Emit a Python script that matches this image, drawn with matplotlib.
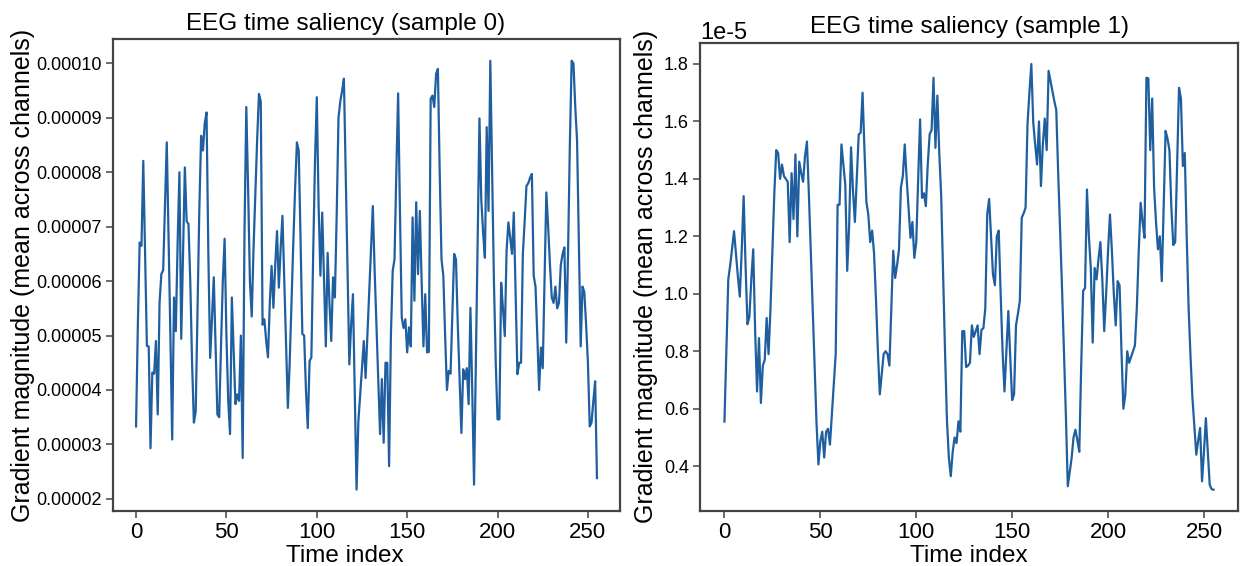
import matplotlib
matplotlib.use("Agg")
import matplotlib.pyplot as plt
import numpy as np

plt.rcParams['font.family'] = ['Liberation Sans', 'DejaVu Sans']
plt.rcParams['axes.unicode_minus'] = False

SCALE = 1e-5

# Sample 0: gradient magnitude (units of 1e-5), time index 0..255
sample0 = [
    3.33, 5.2, 6.71, 6.65, 8.21, 6.5, 4.81, 4.8, 2.93, 4.32,
    4.3, 4.9, 3.55, 5.6, 6.13, 6.2, 7.4, 8.55, 6.8, 5.0,
    3.09, 5.7, 5.08, 6.7, 8.0, 4.94, 6.5, 8.09, 7.1, 7.05,
    6.0, 4.5, 3.4, 3.6, 5.5, 7.3, 8.67, 8.4, 8.9, 9.1,
    6.5, 4.59, 5.3, 6.07, 4.8, 3.55, 3.5, 4.8, 6.0, 6.78,
    5.0, 3.8, 3.19, 5.7, 4.7, 3.74, 3.92, 3.8, 5.0, 2.75,
    6.9, 9.2, 7.7, 6.0, 5.35, 6.6, 7.6, 8.6, 9.44, 9.3,
    5.2, 5.3, 4.9, 4.6, 5.6, 6.28, 5.51, 6.3, 6.92, 5.88,
    6.6, 7.2, 6.0, 4.8, 3.67, 4.5, 5.6, 6.7, 7.7, 8.55,
    8.4, 6.8, 5.03, 5.0, 4.0, 3.3, 4.53, 4.6, 6.5, 8.2,
    9.38, 7.4, 6.1, 7.26, 6.0, 4.8, 6.52, 5.6, 4.9, 6.07,
    5.7, 7.2, 9.0, 9.3, 9.5, 9.72, 8.0, 6.2, 4.47, 5.2,
    5.76, 4.0, 2.17, 3.42, 3.9, 4.4, 4.9, 4.22, 5.0, 5.8,
    6.6, 7.38, 6.2, 5.2, 4.2, 3.19, 4.2, 3.03, 4.5, 4.5,
    2.6, 5.0, 6.19, 6.4, 8.0, 9.45, 7.3, 5.33, 5.14, 5.3,
    4.69, 5.15, 4.8, 7.17, 5.64, 7.45, 6.13, 7.29, 6.0, 4.8,
    5.76, 4.69, 4.7, 9.35, 9.41, 9.2, 9.81, 9.9, 8.0, 6.4,
    6.1, 5.0, 4.0, 4.35, 4.3, 5.4, 6.5, 6.4, 5.2, 4.2,
    3.21, 4.38, 4.2, 4.4, 3.74, 5.51, 4.0, 2.26, 4.5, 6.8,
    8.99, 7.5, 6.9, 6.43, 8.83, 7.29, 10.05, 7.97, 6.0, 4.5,
    3.46, 3.46, 5.97, 5.5, 4.99, 6.56, 7.08, 6.8, 6.5, 7.26,
    5.8, 4.29, 4.5, 4.5, 6.5, 7.1, 7.75, 7.8, 7.9, 7.97,
    6.1, 5.9, 5.0, 4.0, 4.78, 4.4, 6.0, 7.63, 7.0, 6.3,
    5.7, 5.6, 5.9, 5.5, 5.6, 6.3, 6.5, 6.62, 4.87, 6.5,
    8.5, 10.05, 10.0, 9.2, 8.58, 6.7, 4.8, 5.9, 5.8, 5.2,
    4.5, 3.33, 3.4, 3.8, 4.16, 2.38,
]

# Sample 1: gradient magnitude (units of 1e-5), time index 0..255
sample1 = [
    0.555, 0.8, 1.05, 1.1, 1.16, 1.218, 1.14, 1.06, 0.99, 1.15,
    1.34, 1.1, 0.894, 0.92, 1.05, 1.155, 0.87, 0.66, 0.846, 0.62,
    0.75, 0.77, 0.916, 0.79, 0.95, 1.15, 1.35, 1.50, 1.49, 1.40,
    1.45, 1.41, 1.40, 1.39, 1.18, 1.42, 1.26, 1.485, 1.2, 1.46,
    1.42, 1.39, 1.48, 1.53, 1.35, 1.15, 0.95, 0.75, 0.55, 0.406,
    0.487, 0.52, 0.43, 0.52, 0.53, 0.475, 0.58, 0.68, 0.79, 1.31,
    1.31, 1.52, 1.45, 1.38, 1.08, 1.235, 1.51, 1.36, 1.25, 1.40,
    1.555, 1.56, 1.70, 1.5, 1.32, 1.276, 1.18, 1.22, 1.14, 0.98,
    0.8, 0.65, 0.72, 0.79, 0.80, 0.79, 0.75, 0.95, 1.15, 1.055,
    1.1, 1.154, 1.37, 1.41, 1.52, 1.40, 1.3, 1.195, 1.25, 1.125,
    1.18, 1.4, 1.607, 1.334, 1.35, 1.305, 1.45, 1.556, 1.57, 1.752,
    1.508, 1.69, 1.49, 1.34, 1.07, 0.80, 0.56, 0.43, 0.365, 0.45,
    0.50, 0.48, 0.556, 0.52, 0.87, 0.87, 0.745, 0.75, 0.76, 0.89,
    0.85, 0.87, 0.89, 0.79, 0.875, 0.88, 0.95, 1.276, 1.33, 1.2,
    1.067, 1.03, 1.20, 1.22, 1.0, 0.8, 0.66, 0.8, 0.94, 0.78,
    0.63, 0.65, 0.89, 0.93, 0.975, 1.265, 1.28, 1.30, 1.59, 1.70,
    1.80, 1.596, 1.52, 1.45, 1.60, 1.375, 1.52, 1.61, 1.50, 1.776,
    1.74, 1.706, 1.67, 1.64, 1.42, 1.22, 1.02, 0.80, 0.58, 0.33,
    0.38, 0.428, 0.5, 0.527, 0.49, 0.45, 0.75, 1.01, 1.02, 1.363,
    1.2, 1.09, 0.83, 1.09, 1.05, 1.12, 1.18, 1.05, 0.87, 1.0,
    1.15, 1.276, 1.15, 1.0, 0.89, 1.044, 1.03, 0.8, 0.60, 0.65,
    0.80, 0.76, 0.78, 0.80, 0.82, 0.95, 1.15, 1.317, 1.25, 1.195,
    1.752, 1.75, 1.50, 1.68, 1.37, 1.25, 1.155, 1.2, 1.044, 1.3,
    1.567, 1.54, 1.5, 1.3, 1.17, 1.18, 1.45, 1.717, 1.68, 1.445,
    1.49, 1.2, 0.95, 0.78, 0.637, 0.54, 0.44, 0.49, 0.533, 0.347,
    0.45, 0.567, 0.45, 0.335, 0.32, 0.318,
]

titles = ["EEG time saliency (sample 0)", "EEG time saliency (sample 1)"]
xlabel = "Time index"
ylabel = "Gradient magnitude (mean across channels)"

LINE_COLOR = "#1f5f9f"
SPINE_COLOR = "#444444"

W, H = 1241, 566
fig = plt.figure(figsize=(W / 100, H / 100), dpi=100)
ax1 = fig.add_axes([113 / W, 1 - 511 / H, 507 / W, (511 - 39.3) / H])
ax2 = fig.add_axes([700 / W, 1 - 511 / H, 538 / W, (511 - 42.7) / H])

for ax, data, title, xc in ((ax1, sample0, titles[0], 0.458), (ax2, sample1, titles[1], 0.5)):
    t = np.arange(len(data))
    ax.plot(t, np.array(data) * SCALE, color=LINE_COLOR, lw=1.6)
    ax.set_title(title, fontsize=17.5, x=xc, pad=7)
    ax.set_xlabel(xlabel, fontsize=17.5, x=xc, labelpad=1)
    ax.set_xticks([0, 50, 100, 150, 200, 250])
    for s in ax.spines.values():
        s.set_color(SPINE_COLOR)
        s.set_linewidth(1.6)
    ax.tick_params(axis='both', direction='out', length=5, width=1.1,
                   color=SPINE_COLOR, pad=3)
    ax.tick_params(axis='x', labelsize=16)
    ax.tick_params(axis='y', labelsize=13)

ax1.set_ylabel(ylabel, fontsize=18, labelpad=1)
ax2.set_ylabel(ylabel, fontsize=18, labelpad=4)
ax2.yaxis.get_offset_text().set_fontsize(17)

fig.savefig("out.png", dpi=100)
